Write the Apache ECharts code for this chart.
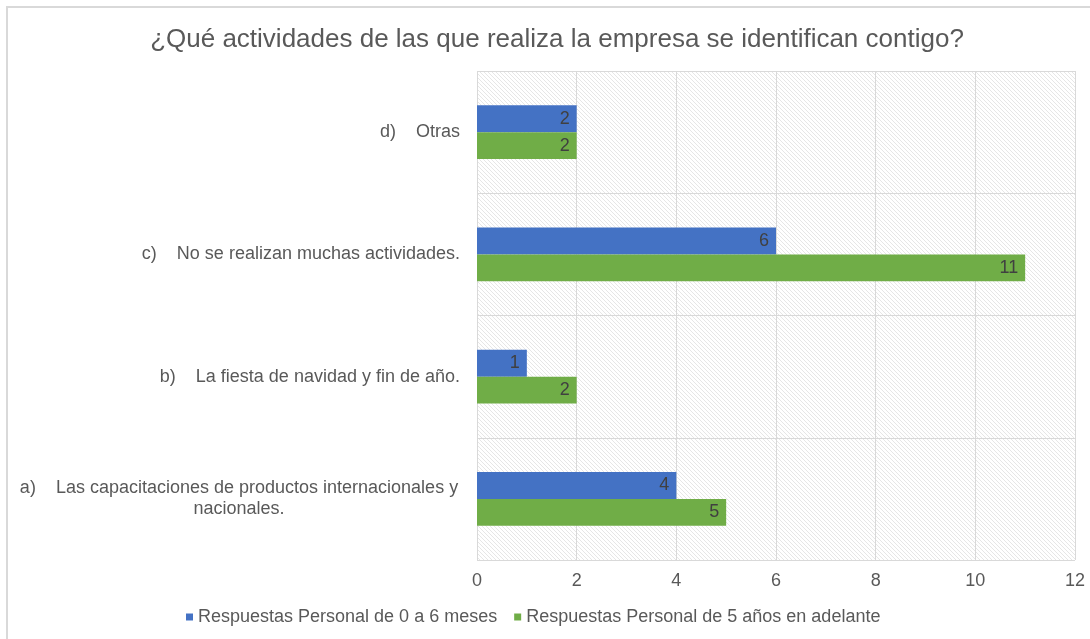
<!DOCTYPE html>
<html>
<head>
<meta charset="utf-8">
<script src="https://cdn.jsdelivr.net/npm/echarts@6/dist/echarts.min.js"></script>
<style>
  html, body { margin: 0; padding: 0; background: #fff; }
  #chart { width: 1090px; height: 639px; }
</style>
</head>
<body>
<div id="chart"></div>
<script>
const titleText = '¿Qué actividades de las que realiza la empresa se identifican contigo?';
const categories = [
  'a)    Las capacitaciones de productos internacionales y\nnacionales.',
  'b)    La fiesta de navidad y fin de año.',
  'c)    No se realizan muchas actividades.',
  'd)    Otras',
];
const seriesNames = [
  'Respuestas Personal de 0 a 6 meses',
  'Respuestas Personal de 5 años en adelante',
];
const newStaff = [4, 1, 6, 2];
const seniorStaff = [5, 2, 11, 2];
const xTicks = { min: 0, max: 12, interval: 2 };

const colors = { blue: '#4472c4', green: '#70ad47', text: '#595959', value: '#404040', grid: '#d9d9d9' };

// diagonal hatch for the plot area
function hatch() {
  const s = 4;
  const c = document.createElement('canvas');
  c.width = s; c.height = s;
  const ctx = c.getContext('2d');
  ctx.fillStyle = '#ffffff';
  ctx.fillRect(0, 0, s, s);
  ctx.strokeStyle = '#e6e6e6';
  ctx.lineWidth = 1;
  ctx.beginPath();
  for (const k of [-s, 0, s]) {
    ctx.moveTo(k, 0);
    ctx.lineTo(k + s, s);
  }
  ctx.stroke();
  return c;
}

const chart = echarts.init(document.getElementById('chart'));
const font = 'Liberation Sans, Arial, sans-serif';

chart.setOption({
  animation: false,
  textStyle: { fontFamily: font },
  title: {
    text: titleText,
    left: 552,
    textAlign: 'center',
    top: 22,
    textStyle: { color: colors.text, fontSize: 26, fontWeight: 'normal', fontFamily: font },
  },
  graphic: [{
    type: 'rect',
    z: -10,
    silent: true,
    shape: { x: 7, y: 7, width: 1100, height: 700 },
    style: { fill: 'none', stroke: colors.grid, lineWidth: 2 },
  }],
  legend: {
    data: seriesNames,
    left: 181,
    top: 603,
    itemWidth: 7,
    itemHeight: 7,
    itemGap: 17,
    icon: 'rect',
    textStyle: { color: colors.text, fontSize: 18, fontFamily: font },
  },
  grid: {
    left: 477, right: 15, top: 71, bottom: 79,
    show: true,
    borderWidth: 0,
    backgroundColor: { image: hatch(), repeat: 'repeat' },
  },
  xAxis: {
    type: 'value',
    min: xTicks.min, max: xTicks.max, interval: xTicks.interval,
    axisLine: { show: false },
    axisTick: { show: false },
    axisLabel: { color: colors.text, fontSize: 18, margin: 12, fontFamily: font },
    splitLine: { lineStyle: { color: colors.grid, width: 1 } },
  },
  yAxis: {
    type: 'category',
    data: categories,
    axisLine: { show: false },
    axisTick: { show: false },
    splitLine: { show: true, lineStyle: { color: colors.grid, width: 1 } },
    axisLabel: {
      color: colors.text, fontSize: 18, margin: 17, fontFamily: font, lineHeight: 21,
      formatter: (v) => v.includes('\n')
        ? v.split('\n').map((l) => '{w|' + l + '}').join('\n')
        : v,
      rich: { w: { width: 442, align: 'center', color: colors.text, fontSize: 18, lineHeight: 21, fontFamily: font } },
    },
  },
  series: [
    {
      name: seriesNames[0],
      type: 'bar',
      data: newStaff,
      barGap: '0%',
      barCategoryGap: '56%',
      itemStyle: { color: colors.blue },
      label: { show: true, position: 'insideRight', color: colors.value, fontSize: 18, distance: 7, fontFamily: font },
    },
    {
      name: seriesNames[1],
      type: 'bar',
      data: seniorStaff,
      barGap: '0%',
      barCategoryGap: '56%',
      itemStyle: { color: colors.green },
      label: { show: true, position: 'insideRight', color: colors.value, fontSize: 18, distance: 7, fontFamily: font },
    },
  ],
});
</script>
</body>
</html>
